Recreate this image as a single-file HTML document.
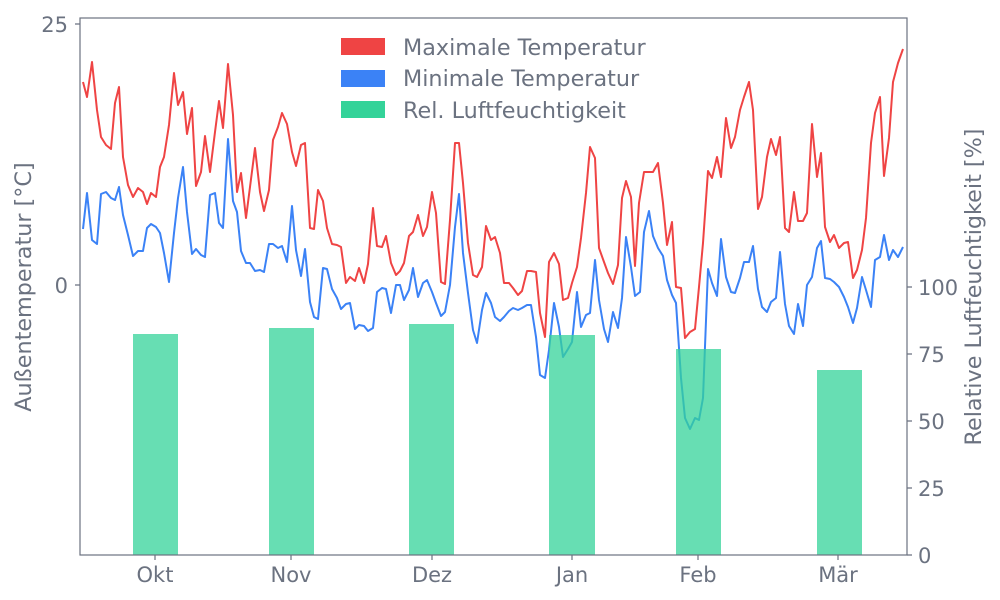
<!DOCTYPE html>
<html><head><meta charset="utf-8"><style>body{margin:0;background:#fff}svg{display:block;font-family:"DejaVu Sans","Liberation Sans",sans-serif}</style></head><body>
<svg width="1000" height="600" viewBox="0 0 1000 600">
<g fill="none" stroke-width="2" stroke-linejoin="round">
<polyline stroke="#ef4444" points="83,82 87,97 92,62 97,110 101,137 106,145 111,149 115,103 119,87 123,157 128,185 133,197 138,188 143,192 147,204 151,193 156,197 160,167 164,157 169,125 174,73 178,105 183,92 187,134 192,108 196,186 201,172 205,136 210,172 215,132 219,101 223,128 228,64 233,115 237,192 241,173 246,218 250,187 255,148 260,192 264,211 269,190 273,140 278,127 282,113 287,124 292,152 296,166 301,145 305,143 310,228 314,229 318,190 323,201 327,228 332,244 337,245 341,247 346,283 350,277 355,281 359,268 364,283 368,264 373,208 377,246 382,247 386,236 391,263 396,275 400,271 404,263 409,236 413,232 418,215 423,236 427,227 432,192 436,213 441,282 445,284 450,220 455,143 459,143 463,183 468,243 473,275 477,277 482,267 486,226 491,240 495,237 500,253 504,283 509,283 513,288 518,295 522,291 527,271 531,271 536,272 540,313 545,337 549,262 554,253 559,264 563,300 568,298 572,283 577,267 581,238 586,193 590,147 595,158 599,248 604,262 608,273 613,284 618,265 622,198 626,181 631,197 635,266 639,203 644,172 649,172 653,172 658,163 663,203 667,245 672,222 676,287 681,288 685,338 690,332 695,329 699,287 703,243 708,171 712,178 717,157 721,177 726,118 731,148 735,137 740,110 744,97 749,82 753,110 758,209 762,197 767,157 771,139 776,155 780,137 785,228 789,232 794,192 798,221 803,221 807,213 812,124 817,177 821,153 825,227 830,242 834,235 839,248 844,243 848,242 853,278 857,270 862,250 866,218 871,143 875,113 880,97 884,176 889,138 893,82 898,63 903,49"/>
<polyline stroke="#3b82f6" points="83,229 87,193 92,240 97,244 101,194 106,192 111,198 115,200 119,187 123,215 128,235 133,256 138,251 143,251 147,228 151,224 156,227 160,233 164,253 169,282 174,233 178,198 183,167 187,212 192,254 196,249 201,255 205,257 210,195 215,193 219,223 223,228 228,139 233,201 237,212 241,251 246,263 250,263 255,271 260,270 264,272 269,244 273,244 278,248 282,246 287,262 292,206 296,250 301,276 305,249 310,302 314,317 318,319 323,268 327,269 332,289 337,298 341,309 346,304 350,303 355,329 359,325 364,326 368,331 373,328 377,292 382,288 386,289 391,313 396,285 400,285 404,300 409,290 413,268 418,297 423,283 427,280 432,292 436,303 441,316 445,312 450,285 455,227 459,194 463,253 468,293 473,330 477,343 482,310 486,293 491,303 495,317 500,321 504,317 509,311 513,308 518,310 522,308 527,305 531,305 536,337 540,375 545,378 549,350 554,303 559,327 563,357 568,349 572,342 577,292 581,327 586,315 590,313 595,260 599,300 604,329 608,342 613,312 618,328 622,298 626,237 631,267 635,296 640,292 644,232 649,211 653,236 658,248 663,256 667,280 672,295 676,303 681,378 685,418 690,429 695,418 699,420 703,398 708,269 712,283 717,296 721,239 726,277 731,292 735,293 740,278 744,262 749,262 753,246 758,289 762,307 767,312 771,302 776,298 780,252 785,304 789,326 794,334 798,304 803,326 807,285 812,277 817,248 821,241 825,278 830,279 834,282 839,287 844,297 848,307 853,323 857,308 862,277 866,290 871,307 875,260 880,257 884,235 889,260 893,250 898,257 903,247"/>
</g>
<g fill="#34d399" opacity="0.75">
<rect x="133" y="334" width="45" height="221"/>
<rect x="269" y="328" width="45" height="227"/>
<rect x="409" y="324" width="45" height="231"/>
<rect x="549" y="335" width="46" height="220"/>
<rect x="676" y="349" width="45" height="206"/>
<rect x="817" y="370" width="45" height="185"/>
</g>
<g stroke="#6b7280" stroke-width="1.2" fill="none">
<rect x="80" y="18" width="827" height="537"/>
<path d="M80,24h-5M80,285h-5M155,555v5M291,555v5M432,555v5M572,555v5M698,555v5M838,555v5M907,555h5M907,488h5M907,421h5M907,354h5M907,287h5"/>
</g>
<g fill="#6b7280" font-size="21">
<text x="68" y="32" text-anchor="end">25</text>
<text x="68" y="293" text-anchor="end">0</text>
<g text-anchor="middle">
<text x="155" y="582">Okt</text><text x="291" y="582">Nov</text><text x="432" y="582">Dez</text><text x="572" y="582">Jan</text><text x="698" y="582">Feb</text><text x="838" y="582">Mär</text>
</g>
<text x="918" y="563">0</text><text x="918" y="496">25</text><text x="918" y="429">50</text><text x="918" y="362">75</text><text x="918" y="295">100</text>
<text transform="translate(31,287) rotate(-90)" text-anchor="middle" font-size="22.3">Außentemperatur [°C]</text>
<text transform="translate(981,287) rotate(-90)" text-anchor="middle" font-size="22.3">Relative Luftfeuchtigkeit [%]</text>
<g font-size="22.3">
<rect x="341" y="38" width="44" height="17" fill="#ef4444"/><text x="403" y="55">Maximale Temperatur</text>
<rect x="341" y="70" width="44" height="17" fill="#3b82f6"/><text x="403" y="86">Minimale Temperatur</text>
<rect x="341" y="101" width="44" height="17" fill="#34d399"/><text x="403" y="118">Rel. Luftfeuchtigkeit</text>
</g>
</g>
</svg>
</body></html>
